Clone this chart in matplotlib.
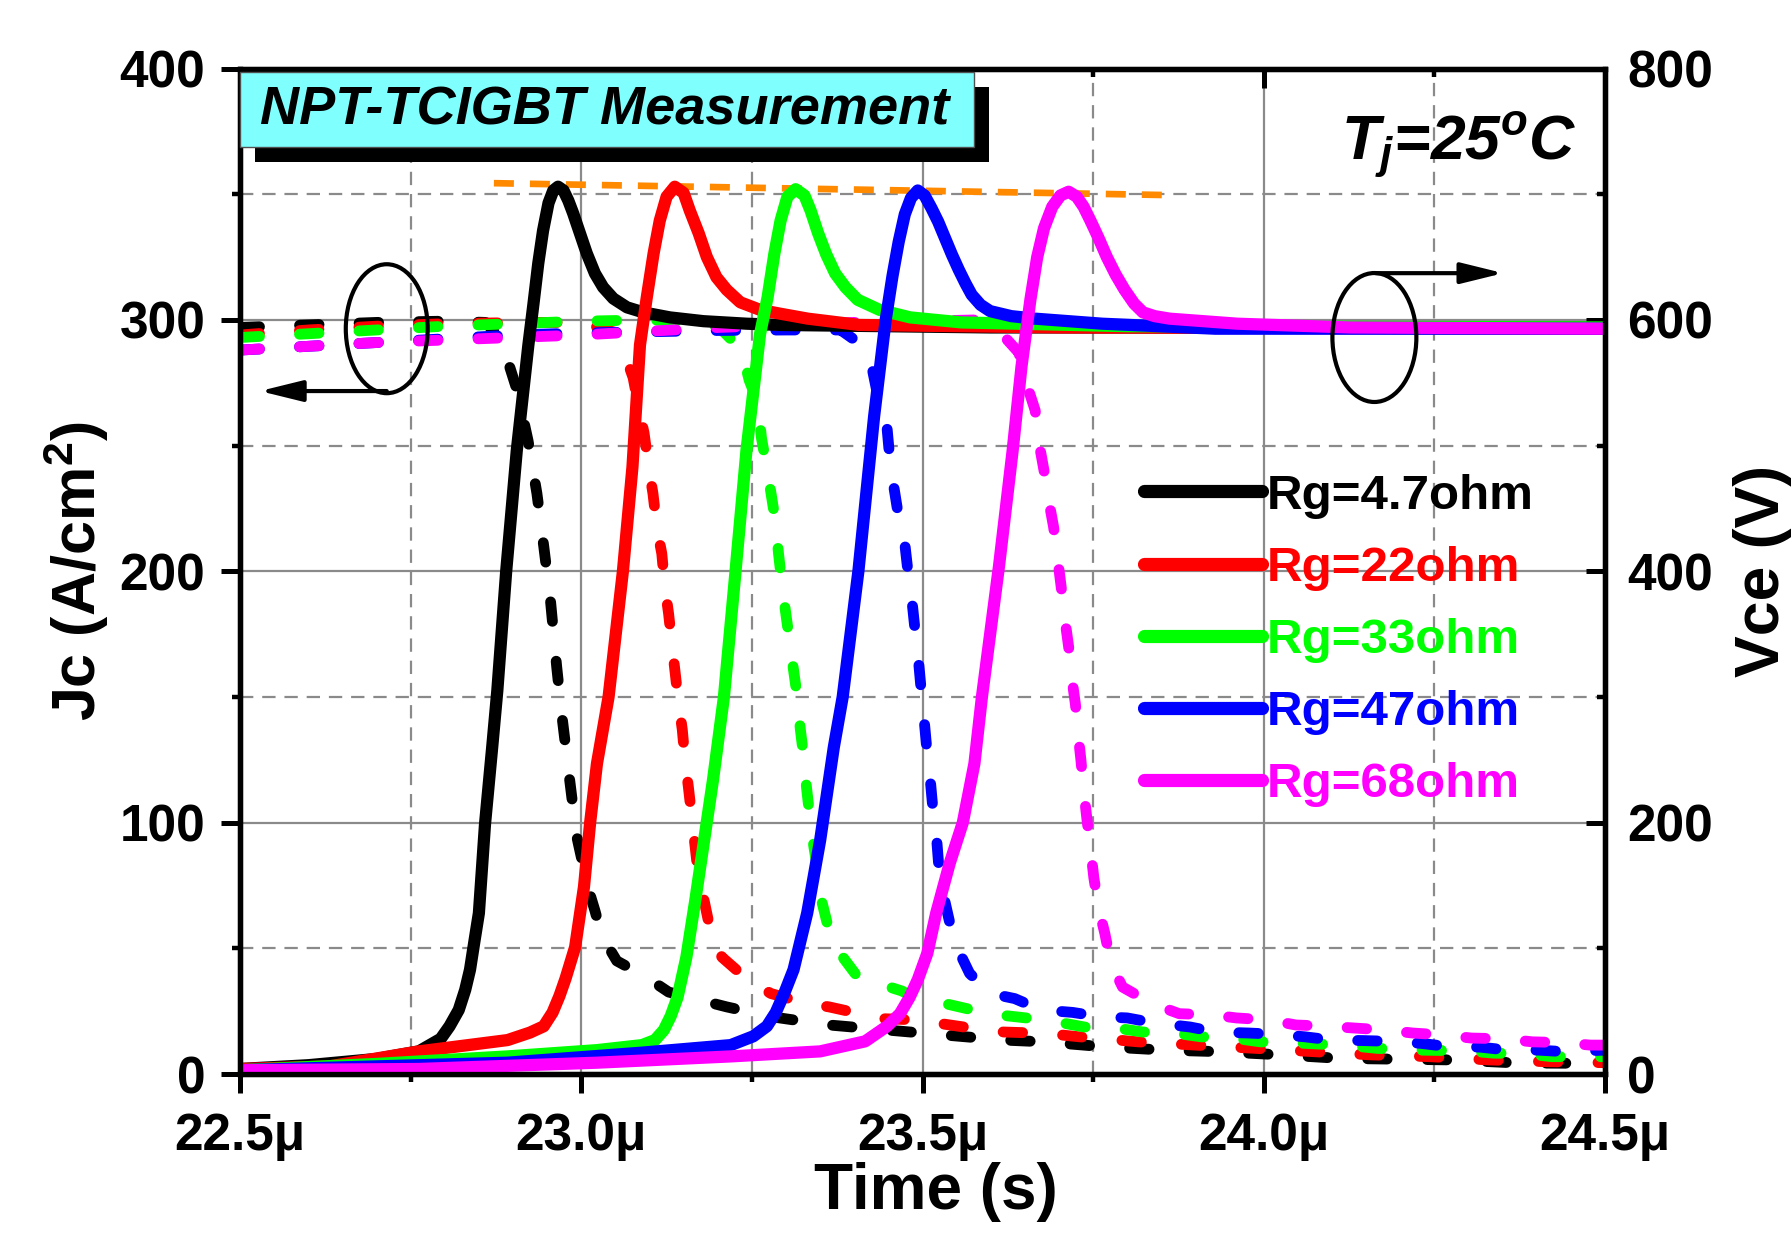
import matplotlib
matplotlib.use('Agg')
import matplotlib.pyplot as plt
from matplotlib.patches import Ellipse, Rectangle
from matplotlib.ticker import MultipleLocator

plt.rcParams['font.family'] = ['Liberation Sans', 'DejaVu Sans']
plt.rcParams['font.weight'] = 'bold'
plt.rcParams['mathtext.default'] = 'regular'
plt.rcParams['axes.unicode_minus'] = False

# ---------------- data (time in microseconds) ----------------
labels = ['Rg=4.7ohm', 'Rg=22ohm', 'Rg=33ohm', 'Rg=47ohm', 'Rg=68ohm']
colors = ['#000000', '#FF0000', '#00FF00', '#0000FF', '#FF00FF']

# Vce (V) -- solid lines, right axis
vce_t_k = [22.50, 22.60, 22.70, 22.762, 22.794, 22.807, 22.8205, 22.830, 22.837, 22.843, 22.850, 22.859, 22.8695,
           22.877, 22.890, 22.9055, 22.9225, 22.930, 22.937, 22.944, 22.952, 22.959, 22.966, 22.974, 22.981, 22.988,
           22.998, 23.008, 23.020, 23.032, 23.047, 23.067, 23.091, 23.130, 23.179, 23.242, 23.291, 23.60, 24.00, 24.50]
vce_v_k = [4, 7, 12, 18, 28, 38, 51, 67, 83, 104, 128, 199, 260,
           305, 400, 496, 580, 613, 645, 671, 693, 703, 706, 703, 695, 685,
           669, 653, 637, 626, 617, 610, 606, 602, 599, 597, 596, 594, 594, 594]

vce_t_r = [22.50, 22.63, 22.762, 22.892, 22.925, 22.945, 22.958, 22.968, 22.977, 22.991, 23.004, 23.013, 23.023,
           23.040, 23.061, 23.075, 23.086, 23.096, 23.106, 23.115, 23.125, 23.137, 23.150, 23.159, 23.172, 23.184,
           23.198, 23.213, 23.233, 23.262, 23.291, 23.332, 23.407, 23.70, 24.50]
vce_v_r = [4, 6, 18, 27, 33, 38, 49, 62, 76, 101, 149, 200, 247,
           300, 400, 483, 580, 618, 653, 679, 698, 706, 701, 687, 669, 650,
           634, 624, 614, 608, 605, 601, 596, 594, 593]

vce_t_g = [22.50, 22.70, 22.892, 23.023, 23.089, 23.108, 23.121, 23.131, 23.141, 23.154, 23.167, 23.180, 23.193,
           23.209, 23.226, 23.242, 23.262, 23.273, 23.283, 23.292, 23.302, 23.314, 23.327, 23.336, 23.347, 23.359,
           23.372, 23.387, 23.405, 23.437, 23.482, 23.557, 23.80, 24.50]
vce_v_g = [3, 8, 14, 19, 23, 27, 35, 46, 61, 93, 138, 186, 234,
           300, 400, 496, 589, 618, 653, 679, 698, 704, 699, 687, 669, 652,
           637, 626, 616, 608, 602, 598, 595, 594]

vce_t_b = [22.50, 22.892, 23.089, 23.219, 23.252, 23.272, 23.285, 23.298, 23.311, 23.331, 23.350, 23.370, 23.383,
           23.406, 23.429, 23.446, 23.456, 23.465, 23.474, 23.483, 23.493, 23.503, 23.513, 23.523, 23.533, 23.543,
           23.553, 23.563, 23.572, 23.585, 23.599, 23.630, 23.665, 23.763, 23.929, 24.50]
vce_v_b = [3, 9, 17, 23, 30, 38, 49, 65, 83, 128, 186, 260, 300,
           400, 523, 600, 635, 662, 684, 697, 703, 699, 689, 678, 665, 652,
           640, 629, 620, 612, 607, 603, 601, 597, 593, 593]

vce_t_m = [22.50, 22.762, 23.023, 23.219, 23.350, 23.416, 23.448, 23.467, 23.481, 23.493, 23.507, 23.520, 23.540,
           23.559, 23.576, 23.587, 23.612, 23.632, 23.645, 23.658, 23.668, 23.678, 23.690, 23.702, 23.714, 23.726,
           23.736, 23.746, 23.758, 23.770, 23.783, 23.796, 23.810, 23.823, 23.840, 23.862, 23.961, 24.126, 24.50]
vce_v_m = [3, 4, 9, 14, 18, 26, 38, 48, 61, 75, 96, 128, 168,
           200, 247, 300, 404, 496, 563, 616, 650, 673, 690, 699, 702, 698,
           690, 679, 665, 650, 636, 624, 613, 606, 603, 601, 597, 594, 593]

# Jc (A/cm2) -- dashed lines, left axis
jc_t_k = [22.50, 22.60, 22.70, 22.80, 22.86, 22.88, 22.892, 22.906, 22.922, 22.935, 22.945, 22.955, 22.964, 22.971,
          22.983, 22.993, 23.010, 23.020, 23.030, 23.052, 23.095, 23.128, 23.174, 23.213, 23.278, 23.363, 23.448, 23.533,
          23.619, 23.678, 23.763, 23.855, 23.934, 24.027, 24.113, 24.277, 24.370, 24.50]
jc_j_k = [297, 298, 299, 299.5, 299, 293, 284, 272, 252, 231, 210, 188, 162, 144,
          117, 95, 74, 65, 55, 45, 38.6, 32.6, 29.4, 26.7, 22.8, 19.5, 17.5, 15.5,
          13.5, 12.8, 10.9, 9.5, 8.9, 7.6, 6.2, 5.6, 4.4, 4.2]

jc_t_r = [22.50, 22.60, 22.70, 22.80, 22.92, 23.00, 23.05, 23.063, 23.076, 23.085, 23.092, 23.099, 23.105, 23.111,
          23.118, 23.122, 23.128, 23.132, 23.137, 23.142, 23.148, 23.152, 23.157, 23.162, 23.167, 23.172, 23.180, 23.190,
          23.206, 23.246, 23.278, 23.331, 23.363, 23.408, 23.442, 23.494, 23.520, 23.578, 23.619, 23.678, 23.730, 23.816,
          23.900, 23.988, 24.072, 24.158, 24.243, 24.330, 24.415, 24.50]
jc_j_r = [294, 296, 297.5, 298.5, 299, 299, 295, 287, 277, 264, 255, 241, 231, 217,
          207, 195, 183, 173, 161, 149, 137, 125, 114, 102, 90, 78, 69, 56,
          46.5, 37, 32, 28, 26.7, 24, 22, 21.5, 20.3, 18, 16.7, 16.2, 14.8, 12.8,
          11.5, 10.2, 8.9, 7.6, 6.9, 5.6, 4.9, 4.5]

jc_t_g = [22.50, 22.60, 22.70, 22.80, 22.90, 23.00, 23.10, 23.187, 23.206, 23.235, 23.246, 23.259, 23.264, 23.272,
          23.278, 23.285, 23.289, 23.294, 23.299, 23.305, 23.311, 23.317, 23.321, 23.326, 23.330, 23.335, 23.341, 23.347,
          23.353, 23.363, 23.379, 23.405, 23.470, 23.493, 23.533, 23.573, 23.612, 23.652, 23.697, 23.737, 23.783, 23.823,
          23.869, 23.908, 23.955, 23.995, 24.060, 24.126, 24.166, 24.230, 24.297, 24.337, 24.383, 24.422, 24.50]
jc_j_g = [293, 294.5, 296, 297.5, 298.5, 299.5, 300, 299, 296, 288, 276, 267, 253, 241,
          231, 219, 207, 195, 184.5, 172.6, 160.7, 149, 137, 126, 114, 102, 90, 80,
          68, 57, 48, 38.6, 33, 29.5, 28, 25.5, 23.5, 22.3, 20.7, 18.7, 18.3, 16.7,
          16.3, 14.8, 14.3, 12.8, 12.2, 11.3, 10.2, 9.5, 9.2, 8.3, 8.1, 6.9, 6.9]

jc_t_b = [22.50, 22.60, 22.70, 22.80, 22.90, 23.00, 23.10, 23.20, 23.30, 23.38, 23.406, 23.426, 23.435, 23.448,
          23.452, 23.458, 23.465, 23.474, 23.479, 23.485, 23.489, 23.494, 23.498, 23.502, 23.506, 23.511, 23.515, 23.520,
          23.524, 23.530, 23.540, 23.553, 23.569, 23.600, 23.635, 23.674, 23.720, 23.760, 23.800, 23.840, 23.892, 23.930,
          23.978, 24.017, 24.060, 24.100, 24.145, 24.185, 24.230, 24.270, 24.317, 24.357, 24.402, 24.440, 24.50]
jc_j_b = [288, 289.5, 291, 292.5, 294, 294.8, 295.3, 295.8, 296, 296, 291, 281, 269, 257,
          245, 233.5, 221.6, 211, 199, 187, 176.6, 164.7, 152.7, 142, 130, 118, 106, 95.8,
          82, 72, 60, 49, 40, 32, 30, 25.5, 24.5, 22.8, 22.3, 20.3, 18.7, 16.7,
          16.3, 15.8, 14.8, 13.5, 13.3, 13, 12.2, 10.9, 10.7, 9.5, 9.5, 8.9, 9.5]

jc_t_m = [22.50, 22.60, 22.70, 22.80, 23.00, 23.10, 23.20, 23.30, 23.40, 23.50, 23.58, 23.611, 23.641, 23.652,
          23.665, 23.670, 23.678, 23.684, 23.692, 23.697, 23.703, 23.708, 23.714, 23.719, 23.724, 23.728, 23.732, 23.736,
          23.741, 23.746, 23.751, 23.758, 23.767, 23.776, 23.793, 23.836, 23.876, 23.925, 23.960, 24.007, 24.047, 24.093,
          24.132, 24.178, 24.218, 24.264, 24.304, 24.353, 24.393, 24.438, 24.478, 24.50]
jc_j_m = [288, 289.5, 291, 292, 294, 295.5, 297, 298, 299, 299.5, 300, 296, 287, 275,
          264, 252, 240, 229.5, 217.6, 207, 194, 182, 170, 157, 147, 135, 125, 113,
          101, 90, 78, 66, 56, 44, 34.6, 28, 24, 23.5, 22.3, 21.5, 19.5, 19,
          18.3, 17.5, 16.3, 15.5, 14.3, 14, 12.8, 12.5, 11.5, 11.5]

vce_t = [vce_t_k, vce_t_r, vce_t_g, vce_t_b, vce_t_m]
vce_v = [vce_v_k, vce_v_r, vce_v_g, vce_v_b, vce_v_m]
jc_t = [jc_t_k, jc_t_r, jc_t_g, jc_t_b, jc_t_m]
jc_j = [jc_j_k, jc_j_r, jc_j_g, jc_j_b, jc_j_m]

# overshoot trend line (left-axis units)
trend_t = [22.872, 23.872]
trend_j = [354.4, 349.6]

x_ticks = [22.5, 23.0, 23.5, 24.0, 24.5]
x_tick_labels = ['22.5\u03bc', '23.0\u03bc', '23.5\u03bc', '24.0\u03bc', '24.5\u03bc']
jc_ticks = [0, 100, 200, 300, 400]
vce_ticks = [0, 200, 400, 600, 800]

# ---------------- figure ----------------
fig = plt.figure(figsize=(17.91, 12.33), dpi=100)
ax = fig.add_axes([0.1340, 0.12895, 0.7622, 0.81545])
ax2 = ax.twinx()

ax.set_xlim(22.5, 24.5)
ax.set_ylim(0, 400)
ax2.set_ylim(0, 800)

grid_c = '#8a8a8a'
ax.set_xticks(x_ticks)
ax.set_xticklabels(x_tick_labels)
ax.xaxis.set_minor_locator(MultipleLocator(0.25))
ax.set_yticks(jc_ticks)
ax.yaxis.set_minor_locator(MultipleLocator(50))
ax2.set_yticks(vce_ticks)
ax2.yaxis.set_minor_locator(MultipleLocator(100))

ax.grid(True, which='major', color=grid_c, lw=1.6, ls='-')
ax.grid(True, which='minor', color=grid_c, lw=1.6, ls=(0, (6, 4)))
ax.set_axisbelow(True)

# dashed current lines
for t, j, c in zip(jc_t, jc_j, colors):
    ax.plot(t, j, color=c, lw=7.8, ls=(0, (1.8, 3.7)), dash_capstyle='round', solid_capstyle='round',
            dash_joinstyle='round')

# orange overshoot trend
ax.plot(trend_t, trend_j, color='#FF8A00', lw=4.8, ls=(0, (3.0, 2.4)), dash_capstyle='butt', zorder=5)

# solid voltage lines
handles = []
for t, v, c, lab in zip(vce_t, vce_v, colors, labels):
    h, = ax2.plot(t, v, color=c, lw=8.8, solid_capstyle='round', solid_joinstyle='round', label=lab)
    handles.append(h)

# ticks
spine_w = 3.8
for a in (ax, ax2):
    for s in a.spines.values():
        s.set_linewidth(spine_w)
ax.tick_params(axis='both', which='major', direction='out', length=14, width=3.6, labelsize=37, pad=11)
ax.tick_params(axis='both', which='minor', direction='out', length=6, width=3.2)
ax.tick_params(axis='x', which='major', pad=13)
ax2.tick_params(axis='y', which='major', direction='in', length=14, width=3.6, labelsize=37, pad=16)
ax2.tick_params(axis='y', which='minor', direction='in', length=6, width=3.2)
ax2.xaxis.set_visible(True)
ax2.tick_params(axis='x', which='both', bottom=False, top=True, labelbottom=False, labeltop=False, direction='in')
ax2.tick_params(axis='x', which='major', length=14, width=3.6)
ax2.tick_params(axis='x', which='minor', length=6, width=3.2)

for lab in ax.get_xticklabels() + ax.get_yticklabels() + ax2.get_yticklabels():
    lab.set_fontweight('bold')

ax.set_xlabel('Time (s)', fontsize=46, fontweight='bold')
ax.xaxis.set_label_coords(0.51, -0.088)
ax.set_ylabel('Jc (A/cm$^2$)', fontsize=44, fontweight='bold', labelpad=6)
ax2.set_ylabel('Vce (V)', fontsize=45, fontweight='bold', labelpad=14)

# legend
leg = ax2.legend(handles=handles, loc='upper left', bbox_to_anchor=(0.662, 0.597), frameon=False,
                 fontsize=35.5, handlelength=2.4, handletextpad=0.1, labelspacing=0.55,
                 borderpad=0, borderaxespad=0)
for txt, c in zip(leg.get_texts(), colors):
    txt.set_color(c)
    txt.set_fontweight('bold')
for h in leg.legend_handles:
    h.set_linewidth(9.5)
    h.set_solid_capstyle('round')

# title box with shadow
ax2.add_patch(Rectangle((0.011, 0.907), 0.538, 0.075, transform=ax2.transAxes, facecolor='black',
                        edgecolor='none', clip_on=False, zorder=20))
ax2.add_patch(Rectangle((0.0, 0.922), 0.538, 0.075, transform=ax2.transAxes, facecolor='#80FFFF',
                        edgecolor='#505050', lw=1.0, clip_on=False, zorder=21))
ax2.text(0.0145, 0.9585, 'NPT-TCIGBT Measurement', transform=ax2.transAxes, fontsize=39, fontweight='bold',
         fontstyle='italic', ha='left', va='center', zorder=22)

# temperature annotation
ax2.text(0.979, 0.909, '$T_j$=25$^o$C', transform=ax2.transAxes, fontsize=45, fontweight='bold',
         fontstyle='italic', ha='right', va='baseline', zorder=22)

# ellipses and arrows
ax.add_patch(Ellipse((22.715, 296.5), 0.12, 51.3, fill=False, edgecolor='black', lw=3, zorder=30, clip_on=False))
ax.annotate('', xy=(22.529, 271.7), xytext=(22.715, 271.7),
            arrowprops=dict(arrowstyle='-|>,head_length=1.3,head_width=0.32', lw=3, color='black',
                            mutation_scale=20, shrinkA=0, shrinkB=0), zorder=30)
ax2.add_patch(Ellipse((24.162, 586), 0.123, 102.6, fill=False, edgecolor='black', lw=3, zorder=30))
ax2.annotate('', xy=(24.351, 637.2), xytext=(24.164, 637.2),
             arrowprops=dict(arrowstyle='-|>,head_length=1.3,head_width=0.32', lw=3, color='black',
                             mutation_scale=20, shrinkA=0, shrinkB=0), zorder=30)

fig.savefig('out.png', dpi=100)
